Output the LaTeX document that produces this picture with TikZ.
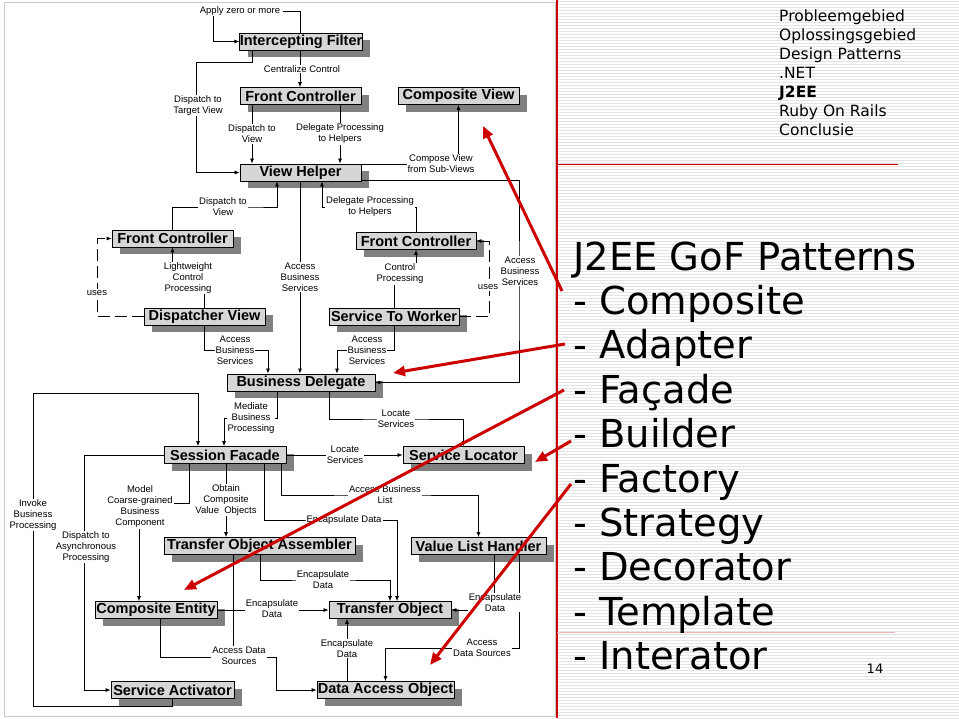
\documentclass[tikz,border=0pt]{standalone}
\usepackage{fontspec}
\setmainfont{Liberation Sans}
\newfontfamily\verdfont{DejaVu Sans}
\usetikzlibrary{positioning,arrows.meta,shadows}

\definecolor{boxgray}{RGB}{214,214,214}
\definecolor{shadowgray}{RGB}{128,128,128}
\definecolor{slidered}{RGB}{204,0,0}
\definecolor{framegray}{RGB}{205,200,200}
\definecolor{stripegray}{RGB}{228,228,228}

\tikzset{
  pbox/.style={draw=black, fill=boxgray, line width=0.8pt, minimum height=17pt, inner sep=0pt,
    font=\fontsize{14.5}{16}\selectfont\bfseries,
    drop shadow={shadow xshift=8pt, shadow yshift=-7pt, fill=shadowgray, opacity=1}},
  lbl/.style={fill=white, inner sep=1pt, align=center, font=\fontsize{9.5}{11}\selectfont},
  link/.style={line width=0.7pt},
  arr/.style={link, -{Latex[length=5pt,width=4pt]}},
  uses/.style={dash pattern=on 12pt off 5pt},
  redarr/.style={draw=slidered, line width=3pt, -{Triangle[length=12pt,width=10pt]}},
  menu/.style={anchor=base west, inner sep=0pt, font=\verdfont\fontsize{15.5}{18}\selectfont},
  item/.style={anchor=base west, inner sep=0pt, font=\verdfont\fontsize{38.5}{44}\selectfont},
}

\begin{document}
\begin{tikzpicture}[x=1pt,y=-1pt]
\useasboundingbox (0,0) rectangle (959,718);
\fill[white] (0,0) rectangle (959,718);

% striped slide background
\foreach \y in {1,4,...,718}
  \draw[stripegray, line width=0.8pt] (558,\y) -- (959,\y);
\draw[framegray] (4,2) rectangle (555,716);

% pattern boxes
\node[pbox, minimum width=122pt] (filter) at (301,41.5) {Intercepting Filter};
\node[pbox, minimum width=121pt] (frontTop) at (300.5,96) {Front Controller};
\node[pbox, minimum width=121pt] (compView) at (458.5,96) {Composite View};
\node[pbox, minimum width=121pt] (viewHelper) at (300.5,172.5) {View Helper};
\node[pbox, minimum width=121pt] (frontLeft) at (172.5,238.5) {Front Controller};
\node[pbox, minimum width=120pt] (frontRight) at (416,241) {Front Controller};
\node[pbox, minimum width=121pt] (dispView) at (204.5,316.5) {Dispatcher View};
\node[pbox, minimum width=130pt] (svcWorker) at (394,316.5) {Service To Worker};
\node[pbox, minimum width=148pt] (busDel) at (301,382.5) {Business Delegate};
\node[pbox, minimum width=122pt] (sessFacade) at (225,455) {Session Facade};
\node[pbox, minimum width=121pt] (svcLocator) at (463.5,455) {Service Locator};
\node[pbox, minimum width=191pt] (toAssembler) at (259.5,546) {Transfer Object Assembler};
\node[pbox, minimum width=135pt] (valueList) at (478.5,546) {Value List Handler};
\node[pbox, minimum width=122pt] (compEntity) at (156,610) {Composite Entity};
\node[pbox, minimum width=122pt] (transObj) at (390,610) {Transfer Object};
\node[pbox, minimum width=123pt] (svcActivator) at (172.5,690) {Service Activator};
\node[pbox, minimum width=137pt] (dao) at (385.5,690) {Data Access Object};

% connectors, presentation tier
\draw[link] ([xshift=-1]filter.north) |- (283,11);
\draw[arr] (213,11) |- (filter.west);
\draw[arr] ([xshift=-1]filter.south) -- ([xshift=-0.5]frontTop.north);
\draw[arr] ([xshift=-49]filter.south) |- (196,62) |- (viewHelper.west);
\draw[arr] ([xshift=-48.5]frontTop.south) -- ([xshift=-48.5]viewHelper.north);
\draw[arr] ([xshift=39.5]frontTop.south) -- ([xshift=39.5]viewHelper.north);
\draw[arr] ([yshift=8]viewHelper.east) -| (compView.south);
\draw[arr] ([yshift=-8]viewHelper.east) -| (519,300) |- (busDel.east);
\draw[arr] ([xshift=-0.5]viewHelper.south) -- ([xshift=-1]busDel.north);
\draw[arr] (frontLeft.north) |- (250,207) -| ([xshift=-23.5]viewHelper.south);
\draw[arr] (frontRight.north) |- (370,207) -| ([xshift=21.5]viewHelper.south);
\draw[arr] (dispView.north) |- (190,280) -| (frontLeft.south);
\draw[arr] (svcWorker.north) |- (405,276) -| (frontRight.south);
\draw[arr, uses] (dispView.west) -| ([xshift=-14]frontLeft.west) -- (frontLeft.west);
\draw[arr, uses] (svcWorker.east) -| ([xshift=13]frontRight.east) -- (frontRight.east);
\draw[arr] (dispView.south) |- (235,350) -| ([xshift=-33]busDel.north);
\draw[arr] (svcWorker.south) |- (367,350) -| ([xshift=36]busDel.north);

% connectors, business tier
\draw[arr] ([xshift=-24]busDel.south) |- (251,418) -| ([xshift=-1]sessFacade.north);
\draw[arr] ([xshift=28]busDel.south) |- (396,419) -| (svcLocator.north);
\draw[arr] (svcActivator.south) |- (33,706) |- (198,393) -- ([xshift=-27]sessFacade.north);
\draw[arr] (sessFacade.west) -| ([xshift=-26]svcActivator.west) -- (svcActivator.west);
\draw[arr] ([xshift=-36]sessFacade.south) |- (139,503) -- ([xshift=-17]compEntity.north);
\draw[arr] ([xshift=1]sessFacade.south) -- ([xshift=-33.5]toAssembler.north);
\draw[arr] ([xshift=39]sessFacade.south) |- (344,520) -| ([xshift=7]transObj.north);
\draw[arr] ([xshift=56]sessFacade.south) |- (385,495) -| (valueList.north);
\draw[arr] (sessFacade.east) -- (svcLocator.west);
\draw[arr] ([xshift=0.5]toAssembler.south) |- (323,580) -| (transObj.north);
\draw[link] ([xshift=-26.5]toAssembler.south) -- (233,652);
\draw[arr] ([xshift=4]compEntity.south) |- (276,657) |- (dao.west);
\draw[arr] (compEntity.east) -- (transObj.west);
\draw[arr] ([xshift=15.5]valueList.south) |- (transObj.east);
\draw[arr] ([xshift=40.5]valueList.south) |- (385.5,648) -- (dao.north);
\draw[arr] ([xshift=-38.5]dao.north) -- ([xshift=-43]transObj.south);

% connector labels
\node[lbl] (lApply) at (240,11) {Apply zero or more};
\node[lbl] (lCentral) at (302,69) {Centralize Control};
\node[lbl] (lTarget) at (198,105.5) {Dispatch to\\Target View};
\node[lbl] (lDispView) at (252,134) {Dispatch to\\View};
\node[lbl] (lDelegate) at (340,134) {Delegate Processing\\to Helpers};
\node[lbl] (lCompose) at (441,163.5) {Compose View\\from Sub-Views};
\node[lbl] (lAccessR) at (520,271) {Access\\Business\\Services};
\node[lbl] (lAccessM) at (300,277) {Access\\Business\\Services};
\node[lbl] (lDispView2) at (223,206.5) {Dispatch to\\View};
\node[lbl] (lDelegate2) at (370,206.5) {Delegate Processing\\to Helpers};
\node[lbl] (lLight) at (188,278) {Lightweight\\Control\\Processing};
\node[lbl] (lControl) at (400,274) {Control\\Processing};
\node[lbl] (lUsesL) at (97,293) {uses};
\node[lbl] (lUsesR) at (488,287) {uses};
\node[lbl] (lAccessDV) at (235,350) {Access\\Business\\Services};
\node[lbl] (lAccessSW) at (367,350) {Access\\Business\\Services};
\node[lbl] (lMediate) at (251,418) {Mediate\\Business\\Processing};
\node[lbl] (lLocate1) at (396,418.5) {Locate\\Services};
\node[lbl] (lInvoke) at (33,515) {Invoke\\Business\\Processing};
\node[lbl] (lAsync) at (86,547) {Dispatch to\\Asynchronous\\Processing};
\node[lbl] (lModel) at (140,507) {Model\\Coarse-grained\\Business\\Component};
\node[lbl] (lObtain) at (226,500) {Obtain\\Composite\\Value\ \ Objects};
\node[lbl] (lEncap1) at (344,520) {Encapsulate Data};
\node[lbl] (lAccessList) at (385,494.5) {Access Business\\List};
\node[lbl] (lLocate2) at (345,455) {Locate\\Services};
\node[lbl] (lEncap2) at (323,579.5) {Encapsulate\\Data};
\node[lbl] (lAccessDS) at (239,655.5) {Access Data\\Sources};
\node[lbl] (lEncap3) at (272,608.5) {Encapsulate\\Data};
\node[lbl] (lEncap4) at (495,602.5) {Encapsulate\\Data};
\node[lbl] (lAccessDS2) at (482,647.5) {Access\\Data Sources};
\node[lbl] (lEncap5) at (347,648.5) {Encapsulate\\Data};

% slide frame and menu
\draw[slidered, line width=2.5pt] (557,0) -- (557,718);
\draw[slidered, line width=1pt] (557,164) -- (898,164);
\draw[slidered!30, line width=0.8pt] (557,632) -- (895,632);
\node[menu] (mProb) at (779,21.5) {Probleemgebied};
\node[menu] (mOpl) at (779,40.5) {Oplossingsgebied};
\node[menu] (mDesign) at (779,59.5) {Design Patterns};
\node[menu] (mNet) at (779,78.5) {.NET};
\node[menu, font=\verdfont\fontsize{15.5}{18}\selectfont\bfseries] (mJee) at (779,97.5) {J2EE};
\node[menu] (mRuby) at (779,116.5) {Ruby On Rails};
\node[menu] (mConcl) at (779,135.5) {Conclusie};

% pattern list
\node[item] (title) at (573,270) {J2EE GoF Patterns};
\foreach \t [count=\i] in {Composite,Adapter,Façade,Builder,Factory,Strategy,Decorator,Template,Interator}
  \node[item] (it\i) at (573,270+44.4*\i) {- \t};
\node[anchor=base, inner sep=0pt, font=\verdfont\fontsize{13}{15}\selectfont] (pageNo) at (875,673) {14};

% red pointers
\coordinate (tipComposite) at (483,126);
\coordinate (tipAdapter) at (393,373);
\coordinate (tipFacade) at (184,590);
\coordinate (tipBuilder) at (535,462);
\coordinate (tipFactory) at (430,665);
\draw[redarr] (562,291) -- (tipComposite);
\draw[redarr] (565,344) -- (tipAdapter);
\draw[redarr] (564,390) -- (tipFacade);
\draw[redarr] (571,441) -- (tipBuilder);
\draw[redarr] (571,484) -- (tipFactory);
\end{tikzpicture}
\end{document}
